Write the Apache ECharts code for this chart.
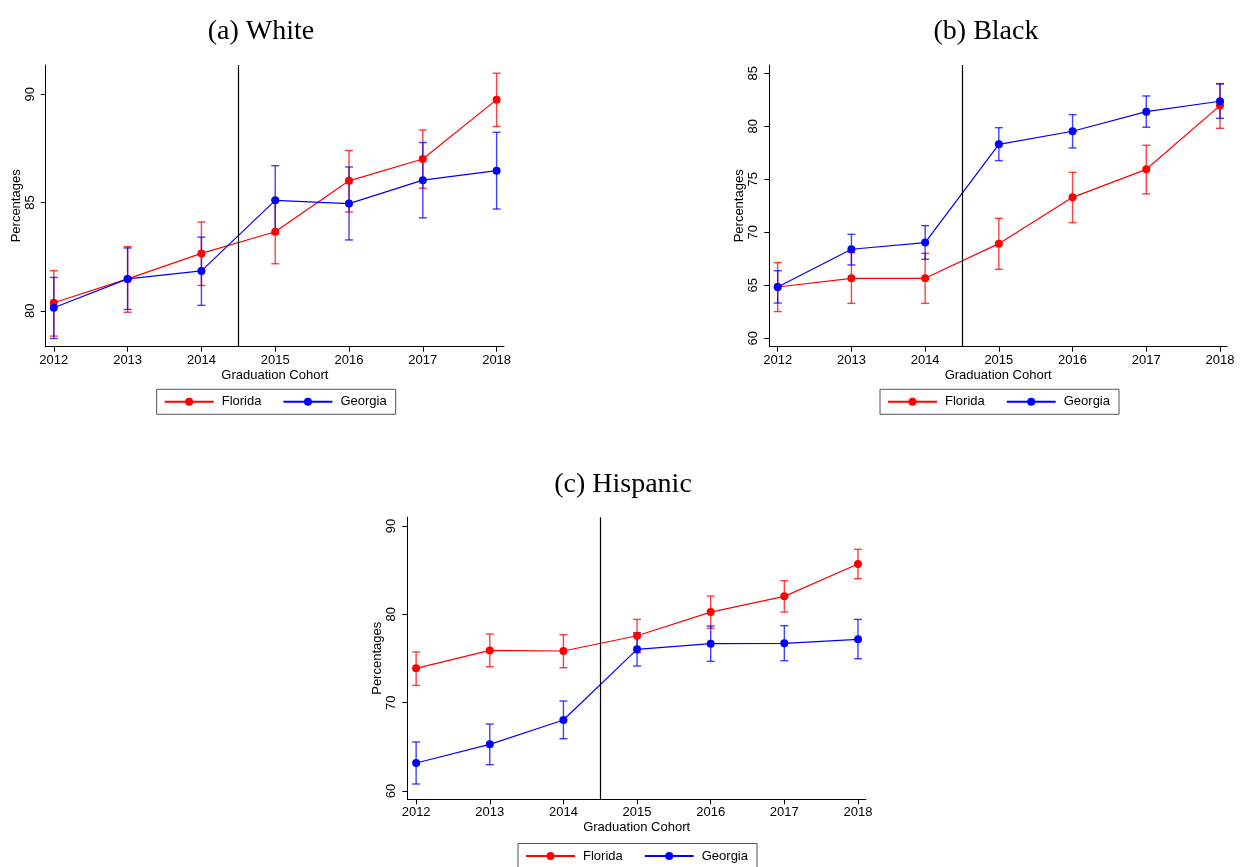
<!DOCTYPE html>
<html>
<head>
<meta charset="utf-8">
<title>Florida vs Georgia by graduation cohort</title>
<script src="https://cdn.jsdelivr.net/npm/echarts@6/dist/echarts.min.js"></script>
<style>
  html, body { margin: 0; padding: 0; background: #fff; }
  #chart { width: 1243px; height: 867px; }
</style>
</head>
<body>
<div id="chart"></div>
<script>
// Cohorts on the x axis, policy cutoff between 2014 and 2015
const years = [2012, 2013, 2014, 2015, 2016, 2017, 2018]
const cutoff = 2014.5

// (a) White
const whiteFlorida   = [80.37, 81.47, 82.65, 83.65, 86.00, 87.01, 89.75]
const whiteFloridaLo = [78.83, 79.93, 81.17, 82.17, 84.56, 85.66, 88.51]
const whiteFloridaHi = [81.85, 82.96, 84.10, 85.13, 87.40, 88.35, 90.97]
const whiteGeorgia   = [80.14, 81.47, 81.84, 85.10, 84.95, 86.03, 86.47]
const whiteGeorgiaLo = [78.72, 80.06, 80.25, 83.55, 83.27, 84.29, 84.70]
const whiteGeorgiaHi = [81.54, 82.90, 83.40, 86.70, 86.64, 87.77, 88.24]
const whiteTicks = [80, 85, 90]

// (b) Black
const blackFlorida   = [64.84, 65.66, 65.66, 68.93, 73.30, 75.94, 81.95]
const blackFloridaLo = [62.52, 63.30, 63.30, 66.51, 70.91, 73.62, 79.81]
const blackFloridaHi = [67.14, 68.08, 68.02, 71.32, 75.66, 78.21, 84.03]
const blackGeorgia   = [64.84, 68.40, 69.03, 78.30, 79.53, 81.38, 82.36]
const blackGeorgiaLo = [63.33, 66.92, 67.45, 76.76, 77.96, 79.91, 80.75]
const blackGeorgiaHi = [66.38, 69.81, 70.63, 79.87, 81.10, 82.86, 83.99]
const blackTicks = [60, 65, 70, 75, 80, 85]

// (c) Hispanic
const hispFlorida   = [73.89, 75.92, 75.85, 77.58, 80.26, 82.04, 85.70]
const hispFloridaLo = [71.96, 74.08, 73.96, 75.66, 78.42, 80.26, 84.04]
const hispFloridaHi = [75.74, 77.77, 77.70, 79.43, 82.08, 83.81, 87.36]
const hispGeorgia   = [63.17, 65.28, 68.04, 76.04, 76.68, 76.72, 77.17]
const hispGeorgiaLo = [60.79, 62.98, 65.92, 74.15, 74.68, 74.75, 74.98]
const hispGeorgiaHi = [65.55, 67.58, 70.19, 77.92, 78.68, 78.72, 79.43]
const hispTicks = [60, 70, 80, 90]

const FONT = "'Liberation Sans', Arial, sans-serif"
const RED = '#ff0000'
const BLUE = '#0000ff'

const chart = echarts.init(document.getElementById('chart'), null, { renderer: 'canvas' })

// rcap style error bars
const errorBars = (color) => (params, api) => {
  const x = api.value(0)
  const top = api.coord([x, api.value(2)])
  const bot = api.coord([x, api.value(1)])
  const w = 4
  const style = { stroke: color, lineWidth: 1.4 }
  return {
    type: 'group',
    children: [
      { type: 'line', shape: { x1: top[0], y1: top[1], x2: bot[0], y2: bot[1] }, style },
      { type: 'line', shape: { x1: top[0] - w, y1: top[1], x2: top[0] + w, y2: top[1] }, style },
      { type: 'line', shape: { x1: bot[0] - w, y1: bot[1], x2: bot[0] + w, y2: bot[1] }, style }
    ]
  }
}

const pairs = (vals) => years.map((y, i) => [y, vals[i]])
const ranges = (lo, hi) => years.map((y, i) => [y, lo[i], hi[i]])

const axisLine = { show: true, onZero: false, lineStyle: { color: '#000', width: 1 } }

const grids = []
const xAxes = []
const yAxes = []
const series = []
const titles = []
const legends = []

function addPanel (p) {
  const idx = grids.length
  grids.push({ left: p.box[0], top: p.box[1], width: p.box[2], height: p.box[3] })

  xAxes.push({
    gridIndex: idx,
    type: 'value',
    min: p.xRange[0],
    max: p.xRange[1],
    axisLine,
    axisTick: { show: true, length: 5, customValues: years, lineStyle: { color: '#000' } },
    axisLabel: {
      customValues: years,
      formatter: v => String(v),
      margin: 7,
      color: '#000',
      fontSize: 13,
      fontFamily: FONT
    },
    splitLine: { show: false },
    name: 'Graduation Cohort',
    nameLocation: 'middle',
    nameGap: 22,
    nameTextStyle: { color: '#000', fontSize: 13, fontFamily: FONT }
  })

  yAxes.push({
    gridIndex: idx,
    type: 'value',
    min: p.yRange[0],
    max: p.yRange[1],
    axisLine,
    axisTick: { show: true, length: 5, customValues: p.ticks, lineStyle: { color: '#000' } },
    axisLabel: {
      customValues: p.ticks,
      rotate: 90,
      margin: 9,
      color: '#000',
      fontSize: 13,
      fontFamily: FONT
    },
    splitLine: { show: false },
    name: 'Percentages',
    nameLocation: 'middle',
    nameGap: 23,
    nameTextStyle: { color: '#000', fontSize: 13, fontFamily: FONT }
  })

  series.push(
    {
      name: 'Florida CI', type: 'custom', xAxisIndex: idx, yAxisIndex: idx,
      renderItem: errorBars('rgba(255,0,0,0.75)'),
      encode: { x: 0, y: [1, 2] },
      data: ranges(p.flLo, p.flHi),
      silent: true, z: 2
    },
    {
      name: 'Georgia CI', type: 'custom', xAxisIndex: idx, yAxisIndex: idx,
      renderItem: errorBars('rgba(0,0,255,0.75)'),
      encode: { x: 0, y: [1, 2] },
      data: ranges(p.gaLo, p.gaHi),
      silent: true, z: 2
    },
    {
      name: 'Florida', type: 'line', xAxisIndex: idx, yAxisIndex: idx,
      data: pairs(p.fl),
      symbol: 'circle', symbolSize: 8,
      itemStyle: { color: RED },
      lineStyle: { color: RED, width: 1.2 },
      z: 3,
      markLine: {
        silent: true,
        symbol: 'none',
        label: { show: false },
        lineStyle: { color: '#000', width: 1.2, type: 'solid' },
        data: [{ xAxis: cutoff }]
      }
    },
    {
      name: 'Georgia', type: 'line', xAxisIndex: idx, yAxisIndex: idx,
      data: pairs(p.ga),
      symbol: 'circle', symbolSize: 8,
      itemStyle: { color: BLUE },
      lineStyle: { color: BLUE, width: 1.2 },
      z: 4
    }
  )

  titles.push({
    text: p.title,
    left: p.titleX,
    top: p.titleY,
    textAlign: 'center',
    textStyle: { fontFamily: "'Liberation Serif', 'Times New Roman', serif", fontWeight: 'normal', fontSize: 28, color: '#000' }
  })

  legends.push({
    data: ['Florida', 'Georgia'],
    left: p.legend[0],
    top: p.legend[1],
    orient: 'horizontal',
    selectedMode: false,
    itemWidth: 49,
    itemHeight: 10,
    itemGap: 21,
    padding: [6, 9, 6, 7],
    borderColor: '#555',
    borderWidth: 1,
    borderRadius: 0,
    textStyle: { color: '#000', fontSize: 13, fontFamily: FONT, padding: [0, 0, 0, 3] }
  })
}

addPanel({
  title: '(a) White', titleX: 256, titleY: 13,
  box: [45.7, 65, 458.3, 281.7],
  xRange: [2011.89, 2018.1],
  yRange: [78.34, 91.35],
  ticks: whiteTicks,
  fl: whiteFlorida, flLo: whiteFloridaLo, flHi: whiteFloridaHi,
  ga: whiteGeorgia, gaLo: whiteGeorgiaLo, gaHi: whiteGeorgiaHi,
  legend: [156.7, 389.3]
})

addPanel({
  title: '(b) Black', titleX: 981, titleY: 13,
  box: [769.3, 65, 457.7, 281.7],
  xRange: [2011.886, 2018.095],
  yRange: [59.21, 85.78],
  ticks: blackTicks,
  fl: blackFlorida, flLo: blackFloridaLo, flHi: blackFloridaHi,
  ga: blackGeorgia, gaLo: blackGeorgiaLo, gaHi: blackGeorgiaHi,
  legend: [880, 389.3]
})

addPanel({
  title: '(c) Hispanic', titleX: 618, titleY: 466,
  box: [407.3, 517.3, 458.7, 282],
  xRange: [2011.88, 2018.109],
  yRange: [59.06, 90.99],
  ticks: hispTicks,
  fl: hispFlorida, flLo: hispFloridaLo, flHi: hispFloridaHi,
  ga: hispGeorgia, gaLo: hispGeorgiaLo, gaHi: hispGeorgiaHi,
  legend: [518, 843.5]
})

chart.setOption({
  animation: false,
  backgroundColor: '#fff',
  title: titles,
  legend: legends,
  grid: grids,
  xAxis: xAxes,
  yAxis: yAxes,
  series
})
</script>
</body>
</html>
